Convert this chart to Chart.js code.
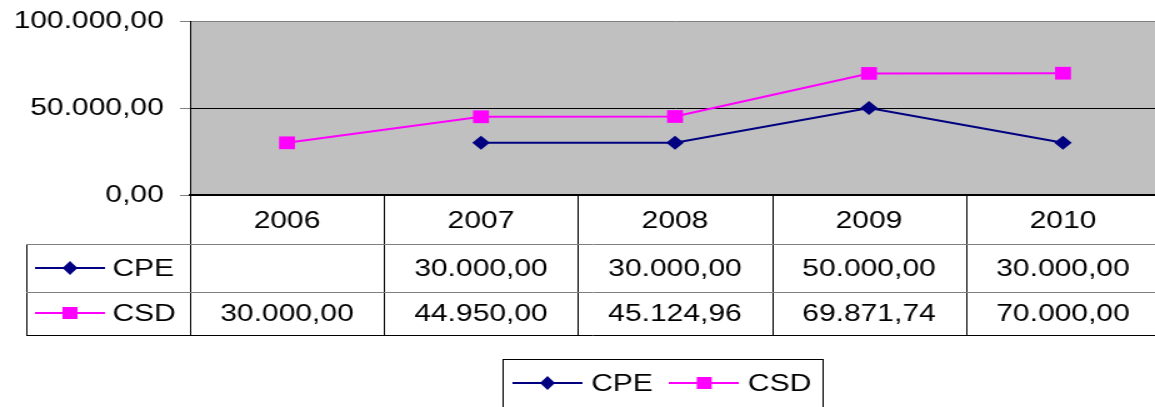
<!DOCTYPE html>
<html>
<head>
<meta charset="utf-8">
<script src="https://cdn.jsdelivr.net/npm/chart.js@4"></script>
<style>
  html, body { margin: 0; padding: 0; background: #fff; overflow: hidden; }
</style>
</head>
<body>
<canvas id="chart" width="928" height="407" style="display:block;width:1160px;height:407px"></canvas>
<script>
const years = ['2006', '2007', '2008', '2009', '2010']
const cpeValues = [null, 30000, 30000, 50000, 30000]
const csdValues = [30000, 44950, 45124.96, 69871.74, 70000]
const yTicks = [0, 50000, 100000]

// 1.234,56 style numbers
const fmt = (v) => {
    const parts = Math.abs(v).toFixed(2).split('.')
    return parts[0].replace(/\B(?=(\d{3})+(?!\d))/g, '.') + ',' + parts[1]
}

// little line + marker pictures for the table and legend
const swatch = (color, shape) => {
    const c = document.createElement('canvas')
    c.width = 56
    c.height = 16
    const g = c.getContext('2d')
    g.strokeStyle = color
    g.lineWidth = 2
    g.beginPath()
    g.moveTo(0, 8)
    g.lineTo(56, 8)
    g.stroke()
    g.fillStyle = color
    g.beginPath()
    if (shape === 'diamond') {
        g.moveTo(28, 1); g.lineTo(34, 8); g.lineTo(28, 15); g.lineTo(22, 8)
    } else {
        g.rect(22, 2, 12, 12)
    }
    g.closePath()
    g.fill()
    return c
}

const series = [
    { label: 'CPE', values: cpeValues, color: '#000080', shape: 'diamond' },
    { label: 'CSD', values: csdValues, color: '#ff00ff', shape: 'square' }
]
series.forEach(s => { s.img = swatch(s.color, s.shape) })

const FONT = '24px "Liberation Sans", Arial, sans-serif'

const tablePlugin = {
    id: 'tablePlugin',
    beforeDraw(chart) {
        const { ctx, chartArea: a } = chart
        ctx.save()
        ctx.fillStyle = '#c0c0c0'
        ctx.fillRect(a.left, a.top, a.right - a.left, a.bottom - a.top)
        ctx.restore()
    },
    afterDraw(chart) {
        const { ctx, chartArea: a } = chart
        const xs = chart.scales.x
        const colW = (xs.right - xs.left) / years.length
        const tableLeft = 21
        const rowTop = [244, 292]
        const tableBottom = 335
        ctx.save()
        ctx.lineWidth = 1

        // vertical lines
        ctx.strokeStyle = '#000'
        ctx.beginPath()
        for (let k = 0; k < years.length; k++) {
            const x = Math.round(xs.left + k * colW) + 0.5
            ctx.moveTo(x, a.bottom)
            ctx.lineTo(x, tableBottom)
        }
        ctx.moveTo(tableLeft + 0.5, rowTop[0])
        ctx.lineTo(tableLeft + 0.5, tableBottom)
        ctx.stroke()

        // horizontal lines
        ctx.strokeStyle = '#808080'
        ctx.beginPath()
        rowTop.forEach(y => {
            ctx.moveTo(tableLeft, y + 0.5)
            ctx.lineTo(xs.right, y + 0.5)
        })
        ctx.stroke()
        ctx.strokeStyle = '#000'
        ctx.beginPath()
        ctx.moveTo(tableLeft, tableBottom + 0.5)
        ctx.lineTo(xs.right, tableBottom + 0.5)
        ctx.stroke()

        // row labels and values
        ctx.font = FONT
        ctx.fillStyle = '#000'
        ctx.textBaseline = 'middle'
        const rowMid = [268, 313]
        series.forEach((s, r) => {
            ctx.drawImage(s.img, 28, rowMid[r] - 8)
            ctx.textAlign = 'left'
            ctx.fillText(s.label, 90, rowMid[r] + 1)
            ctx.textAlign = 'center'
            s.values.forEach((v, i) => {
                if (v === null) return
                ctx.fillText(fmt(v), xs.getPixelForValue(i), rowMid[r] + 1)
            })
        })

        // legend box
        ctx.strokeStyle = '#000'
        ctx.strokeRect(402.5, 359.5, 256, 80)
        const legY = 383
        let x = 410
        series.forEach(s => {
            ctx.drawImage(s.img, x, legY - 8)
            ctx.textAlign = 'left'
            ctx.fillText(s.label, x + 63, legY + 1)
            x += 63 + ctx.measureText(s.label).width + 13
        })
        ctx.restore()
    }
}

new Chart(document.getElementById('chart'), {
    type: 'line',
    data: {
        labels: years,
        datasets: series.map(s => ({
            label: s.label,
            data: s.values,
            borderColor: s.color,
            backgroundColor: s.color,
            borderWidth: 2,
            pointStyle: s.shape === 'diamond' ? 'rectRot' : 'rect',
            pointRadius: s.shape === 'diamond' ? 7 : 9,
            pointBorderWidth: 0,
            tension: 0,
            spanGaps: false
        }))
    },
    options: {
        responsive: false,
        animation: false,
        layout: { autoPadding: false, padding: { left: 11, top: 21, right: 0, bottom: 72 } },
        plugins: {
            legend: { display: false },
            tooltip: { enabled: false }
        },
        scales: {
            x: {
                offset: true,
                grid: { display: false, drawOnChartArea: false, drawTicks: false },
                border: { display: true, color: '#000', width: 2 },
                ticks: { font: { family: 'Liberation Sans', size: 24 }, color: '#000', padding: 12 },
                afterFit(scale) {
                    scale.height = 140
                    scale.paddingLeft = 0
                    scale.paddingRight = 0
                }
            },
            y: {
                min: 0,
                max: 100000,
                afterBuildTicks(scale) { scale.ticks = yTicks.map(v => ({ value: v })) },
                grid: {
                    color: (c) => c.tick && c.tick.value === 50000 ? '#000' : (c.tick && c.tick.value === 100000 ? '#808080' : 'rgba(0,0,0,0)'),
                    tickColor: '#808080',
                    tickLength: 8,
                    drawTicks: true
                },
                border: { display: true, color: '#000', width: 1 },
                ticks: {
                    font: { family: 'Liberation Sans', size: 24 },
                    color: '#000',
                    padding: 13,
                    callback: (v) => fmt(v)
                },
                afterFit(scale) {
                    scale.width = 141
                    scale.paddingTop = 0
                    scale.paddingBottom = 0
                }
            }
        }
    },
    plugins: [tablePlugin]
})
</script>
</body>
</html>
